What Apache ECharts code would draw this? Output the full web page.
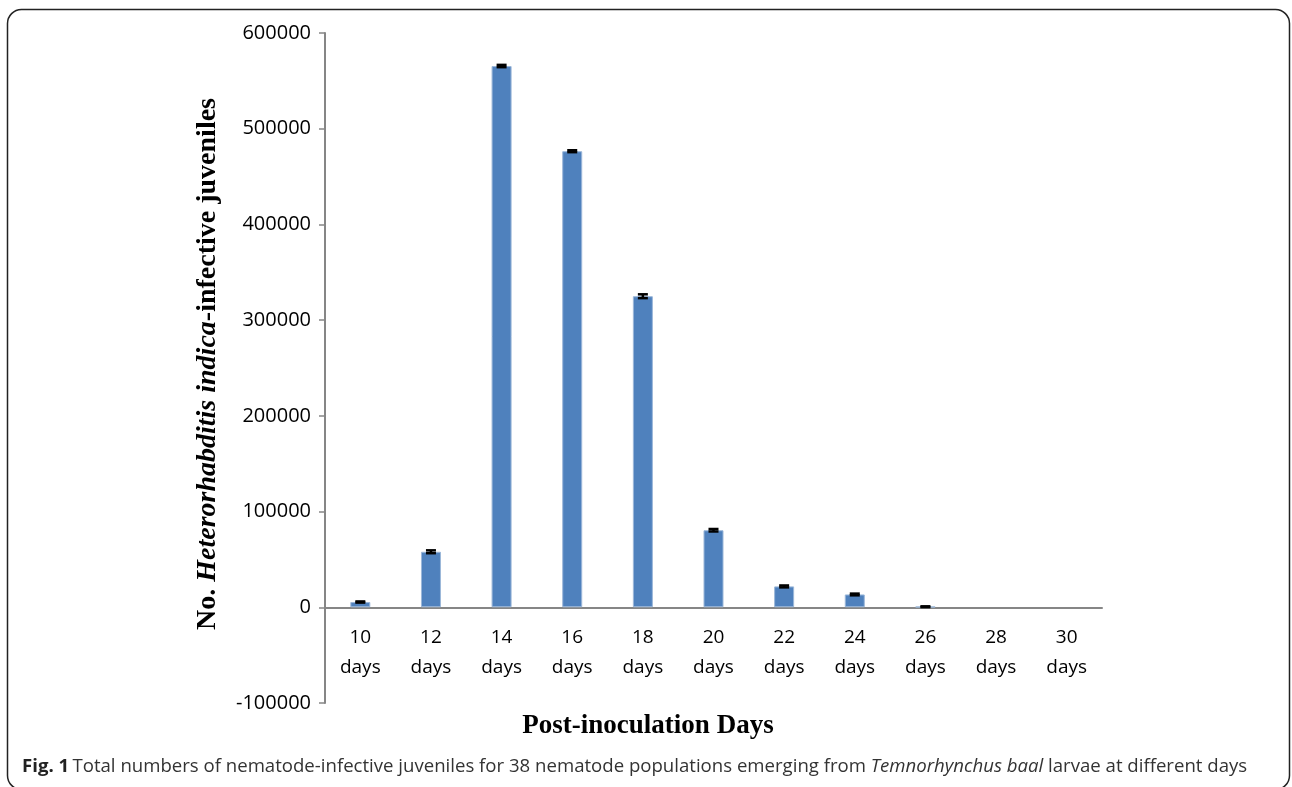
<!DOCTYPE html>
<html>
<head>
<meta charset="utf-8">
<script src="https://cdn.jsdelivr.net/npm/echarts@6/dist/echarts.min.js"></script>
<style>
  html, body { margin: 0; padding: 0; background: #fff; }
  #chart { width: 1292px; height: 787px; }
</style>
</head>
<body>
<div id="chart"></div>
<script>
// Post-inoculation day categories
const categories = ['10\ndays', '12\ndays', '14\ndays', '16\ndays', '18\ndays', '20\ndays',
                    '22\ndays', '24\ndays', '26\ndays', '28\ndays', '30\ndays'];
// Mean number of infective juveniles per day
const juveniles = [5500, 58000, 565500, 476500, 325000, 80500, 21800, 13400, 600, 0, 0];
// Standard error for each mean
const stdErr = [600, 1500, 1200, 1000, 2000, 1300, 1000, 900, 400, 0, 0];
// Value axis ticks
const yTicks = [-100000, 0, 100000, 200000, 300000, 400000, 500000, 600000];

const chart = echarts.init(document.getElementById('chart'));

const errorData = juveniles.map((v, i) => [i, v - stdErr[i], v + stdErr[i], stdErr[i]]);
// Empty days get no outline so nothing shows on the baseline
const barData = juveniles.map(v => v > 0 ? v : { value: v, itemStyle: { borderWidth: 0 } });

chart.setOption({
  animation: false,
  backgroundColor: '#fff',
  grid: { left: 325, right: 190, top: 33, bottom: 84, containLabel: false },
  xAxis: {
    type: 'category',
    data: categories,
    axisLine: { onZero: true, lineStyle: { color: '#868686', width: 2 } },
    axisTick: { show: false },
    axisLabel: {
      color: '#000', fontFamily: 'Open Sans', fontSize: 19, lineHeight: 30, margin: -80
    }
  },
  yAxis: {
    type: 'value',
    min: yTicks[0],
    max: yTicks[yTicks.length - 1],
    interval: 100000,
    splitLine: { show: false },
    axisLine: { show: true, lineStyle: { color: '#868686', width: 2 } },
    axisTick: { show: true, length: 6, lineStyle: { color: '#868686', width: 1.5 } },
    axisLabel: {
      color: '#000', fontFamily: 'Open Sans', fontSize: 20, margin: 14,
      formatter: v => String(v)
    }
  },
  series: [
    {
      type: 'bar',
      data: barData,
      barWidth: 20,
      itemStyle: { color: '#4F81BD', borderColor: '#9BB7D9', borderWidth: 1 },
      z: 2
    },
    {
      type: 'custom',
      data: errorData,
      z: 5,
      renderItem: function (params, api) {
        if (api.value(3) <= 0) return null;
        const x = api.coord([api.value(0), 0])[0];
        const lo = api.coord([api.value(0), api.value(1)])[1];
        const hi = api.coord([api.value(0), api.value(2)])[1];
        const half = 5;
        const style = { stroke: '#000', lineWidth: 2.5 };
        return {
          type: 'group',
          children: [
            { type: 'line', shape: { x1: x, y1: hi, x2: x, y2: lo }, style: style },
            { type: 'line', shape: { x1: x - half, y1: hi, x2: x + half, y2: hi }, style: style },
            { type: 'line', shape: { x1: x - half, y1: lo, x2: x + half, y2: lo }, style: style }
          ]
        };
      }
    }
  ],
  graphic: [
    {
      type: 'rect',
      shape: { x: 7.5, y: 9.5, width: 1282, height: 780, r: 14 },
      style: { fill: 'none', stroke: '#222', lineWidth: 1.5 },
      z: -1
    },
    {
      type: 'text',
      x: 208, y: 364,
      rotation: Math.PI / 2,
      style: {
        text: '{b|No. }{bi|Heterorhabditis indica}{b|-infective juveniles}',
        align: 'center', verticalAlign: 'middle',
        rich: {
          b: { fontFamily: 'Liberation Serif', fontWeight: 'bold', fontSize: 28, fill: '#000' },
          bi: { fontFamily: 'Liberation Serif', fontWeight: 'bold', fontStyle: 'italic', fontSize: 28, fill: '#000' }
        }
      }
    },
    {
      type: 'text',
      x: 648, y: 726,
      style: {
        text: 'Post-inoculation Days',
        align: 'center', verticalAlign: 'middle',
        fontFamily: 'Liberation Serif', fontWeight: 'bold', fontSize: 27, fill: '#000'
      }
    },
    {
      type: 'text',
      x: 22, y: 767,
      style: {
        text: '{b|Fig. 1} {n|Total numbers of nematode-infective juveniles for 38 nematode populations emerging from }{i|Temnorhynchus baal}{n| larvae at different days}',
        align: 'left', verticalAlign: 'middle',
        rich: {
          b: { fontFamily: 'Open Sans', fontWeight: 'bold', fontSize: 18.6, fill: '#222' },
          n: { fontFamily: 'Open Sans', fontSize: 18.6, fill: '#333' },
          i: { fontFamily: 'Open Sans', fontStyle: 'italic', fontSize: 18.6, fill: '#333' }
        }
      }
    }
  ]
});
</script>
</body>
</html>
